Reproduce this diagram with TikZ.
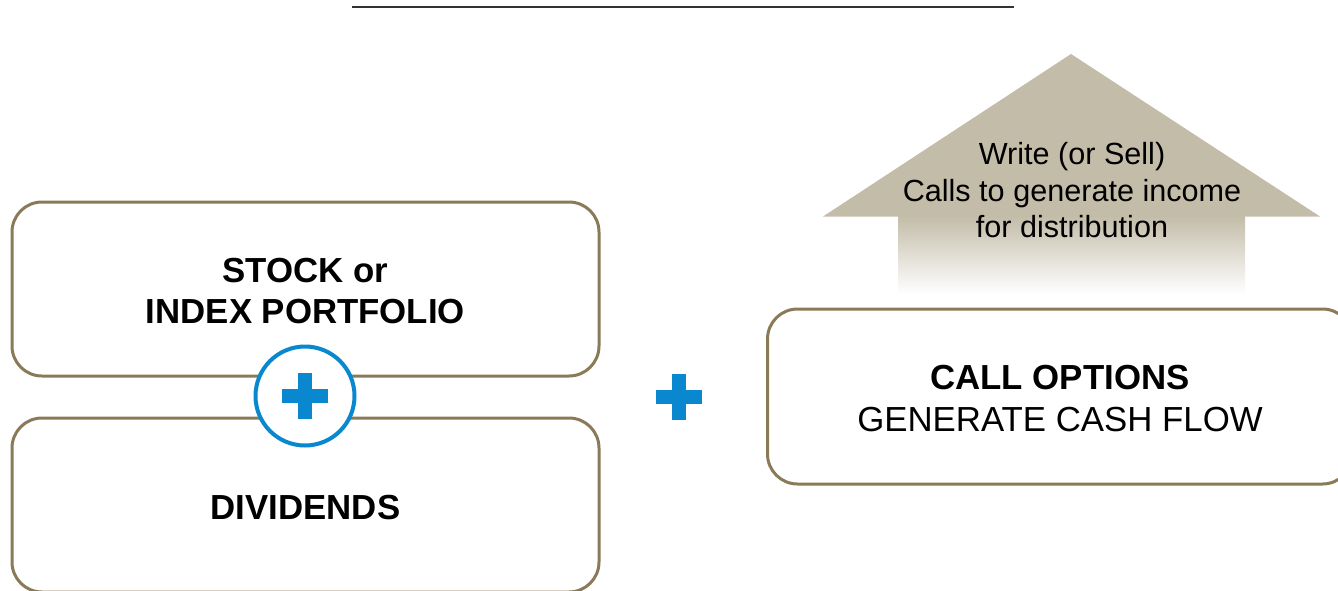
\documentclass[tikz,border=0pt]{standalone}
\usepackage{fontspec}
\setmainfont{Liberation Sans}
\definecolor{boxc}{HTML}{8B7A57}
\definecolor{bluec}{HTML}{0A88CF}
\definecolor{arrowc}{HTML}{C3BCA9}
\definecolor{linec}{HTML}{333333}
\tikzset{
  box/.style={draw=boxc, line width=3pt, rounded corners=30pt, fill=white, inner sep=0pt},
  bigtext/.style={font=\fontsize{34.8}{41.5}\selectfont, align=center, inner sep=0pt},
  arrtext/.style={font=\fontsize{30.6}{36.5}\selectfont, align=center},
  ring/.style={circle, draw=bluec, line width=4pt, fill=white, minimum size=99pt, inner sep=0pt},
  plusarm/.style={fill=bluec, draw=none}
}
\newcommand{\bluplus}[1]{%
  \fill[plusarm] ($(#1)+(-23,-7)$) rectangle ($(#1)+(23,7)$);
  \fill[plusarm] ($(#1)+(-7,-23)$) rectangle ($(#1)+(7,23)$);}
\usetikzlibrary{calc}
\begin{document}
\begin{tikzpicture}[x=1pt,y=-1pt]
\useasboundingbox (0,0) rectangle (1338,590);
% top rule
\coordinate (l1) at (352,7);
\coordinate (l2) at (1014,7);
\draw[linec, line width=2pt] (l1) -- (l2);
% arrow
\fill[arrowc] (823,216.5) -- (1071,54) -- (1320,216.5) -- cycle;
\shade[top color=arrowc, middle color=arrowc!75, bottom color=white] (898,216) rectangle (1245,294);
\node[arrtext] (arr) at (1072,190.5) {Write (or Sell)\\Calls to generate income\\for distribution};
% boxes
\node[box, minimum width=587pt, minimum height=174pt] (stock) at (305.5,289) {};
\node[bigtext] (stockt) at ($(stock.center)+(0,2)$) {\textbf{STOCK or}\\\textbf{INDEX PORTFOLIO}};
\node[box, minimum width=587pt, minimum height=174pt] (div) at (305.5,505) {};
\node[bigtext] (divt) at ($(div.center)+(0,3)$) {\textbf{DIVIDENDS}};
\node[box, minimum width=585pt, minimum height=175pt] (call) at (1060,396.5) {};
\node[bigtext] (callt) at ($(call.center)+(0,2)$) {\textbf{CALL OPTIONS}\\GENERATE CASH FLOW};
% plus in circle
\node[ring] (ring) at (305,396) {};
\bluplus{ring}
% standalone plus
\coordinate (plus2) at (679,397);
\bluplus{plus2}
\end{tikzpicture}
\end{document}
